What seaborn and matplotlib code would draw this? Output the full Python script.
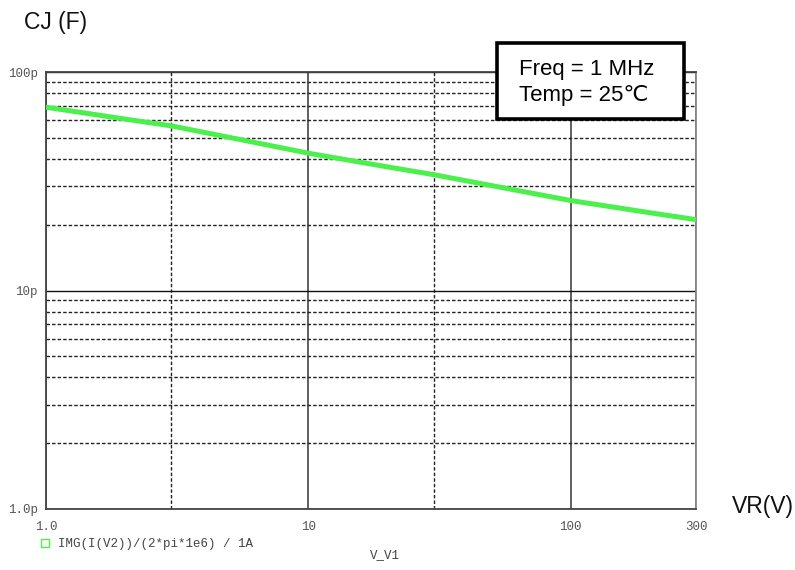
import matplotlib
matplotlib.use("Agg")
import matplotlib.pyplot as plt
import seaborn as sns
import pandas as pd
import numpy as np
from matplotlib.lines import Line2D
from matplotlib.patches import Rectangle
from matplotlib.ticker import FixedLocator, NullFormatter

# Data
vr_volts = [1, 2, 3, 5, 10, 20, 30, 50, 100, 200, 300]
cj_pf = [69.0, 60.9, 56.7, 50.2, 42.5, 36.8, 33.9, 30.2, 25.8, 22.7, 21.1]
series_label = "IMG(I(V2))/(2*pi*1e6) / 1A"
x_tick_values = [1, 10, 100, 300]
x_tick_labels = ["1.0", "10", "100", "300"]
y_tick_values = [1e-12, 1e-11, 1e-10]
y_tick_labels = ["1.0p", "10p", "100p"]

df = pd.DataFrame({"VR": vr_volts, "CJ": np.array(cj_pf) * 1e-12})

sns.set_theme(style="white")
plt.rcParams["font.family"] = ["Liberation Sans", "DejaVu Sans"]

green = "#4cf04c"
mono = ["Liberation Mono", "DejaVu Sans Mono"]

fig = plt.figure(figsize=(7.95, 5.70), dpi=100)
ax = fig.add_axes([46 / 795, 1 - 509 / 570, (696 - 46) / 795, (509 - 72) / 570])

sns.lineplot(data=df, x="VR", y="CJ", ax=ax, color=green, linewidth=3.6,
             legend=False, zorder=5)

ax.set_xscale("log")
ax.set_yscale("log")
ax.set_xlim(1, 300)
ax.set_ylim(1e-12, 1e-10)

ax.set_xticks(x_tick_values)
ax.set_xticklabels(x_tick_labels)
ax.set_yticks(y_tick_values)
ax.set_yticklabels(y_tick_labels)
ax.xaxis.set_minor_locator(FixedLocator([3, 30]))
ax.xaxis.set_minor_formatter(NullFormatter())
yminor = [m * d for d in [1e-12, 1e-11] for m in range(2, 10)]
ax.yaxis.set_minor_locator(FixedLocator(yminor))
ax.yaxis.set_minor_formatter(NullFormatter())

for lab in ax.get_xticklabels() + ax.get_yticklabels():
    lab.set_fontfamily(mono)
    lab.set_fontsize(9)
    lab.set_color("#555555")

ax.tick_params(axis="both", which="major", direction="out", length=4,
               width=1.2, color="#333333", pad=2)
ax.tick_params(axis="x", which="major", pad=5)
ax.tick_params(axis="both", which="minor", length=0)

ax.grid(True, which="major", axis="x", color="#444444", linewidth=1.2,
        linestyle="-")
ax.grid(True, which="major", axis="y", color="#111111", linewidth=1.0,
        linestyle="-")
ax.grid(True, which="minor", axis="both", color="#222222", linewidth=1.0,
        linestyle=(0, (2.5, 1.5)))
ax.set_axisbelow(True)

for side, sp in ax.spines.items():
    sp.set_visible(True)
    sp.set_color("#444444")
    sp.set_linewidth(1.3)
ax.spines["right"].set_color("#888888")

ax.set_xlabel("")
ax.set_ylabel("")

# Axis titles
fig.text(24 / 795, 1 - 22 / 570, "CJ (F)", fontsize=16.5, ha="left",
         va="center", color="#111111")
fig.text(732 / 795, 1 - 507 / 570, "VR(V)", fontsize=16.5, ha="left",
         va="center", color="#111111")
fig.text(385 / 795, 1 - 555 / 570, "V_V1", fontsize=9, family=mono,
         ha="center", va="center", color="#444444")

# Legend
handle = Line2D([], [], marker="s", linestyle="none", markerfacecolor="white",
                markeredgecolor=green, markersize=6, markeredgewidth=1.0)
leg = fig.legend(handles=[handle], labels=[series_label], loc="center left",
                 bbox_to_anchor=(40 / 795, 1 - 544 / 570), frameon=False,
                 prop={"family": mono, "size": 9}, handlelength=0.8,
                 handletextpad=0.6, borderaxespad=0, borderpad=0)
for t in leg.get_texts():
    t.set_color("#444444")

# Annotation box
rect = Rectangle((497 / 795, 1 - 119 / 570), (684 - 497) / 795, (119 - 43) / 570,
                 transform=fig.transFigure, facecolor="white", edgecolor="black",
                 linewidth=2.6, zorder=10)
fig.patches.append(rect)
fig.text(519 / 795, 1 - 69 / 570, "Freq = 1 MHz", fontsize=16, ha="left",
         va="center", color="black", zorder=11)
fig.text(519 / 795, 1 - 95 / 570, "Temp = 25℃", fontsize=16, ha="left",
         va="center", color="black", zorder=11)

fig.savefig("out.png", dpi=100)
